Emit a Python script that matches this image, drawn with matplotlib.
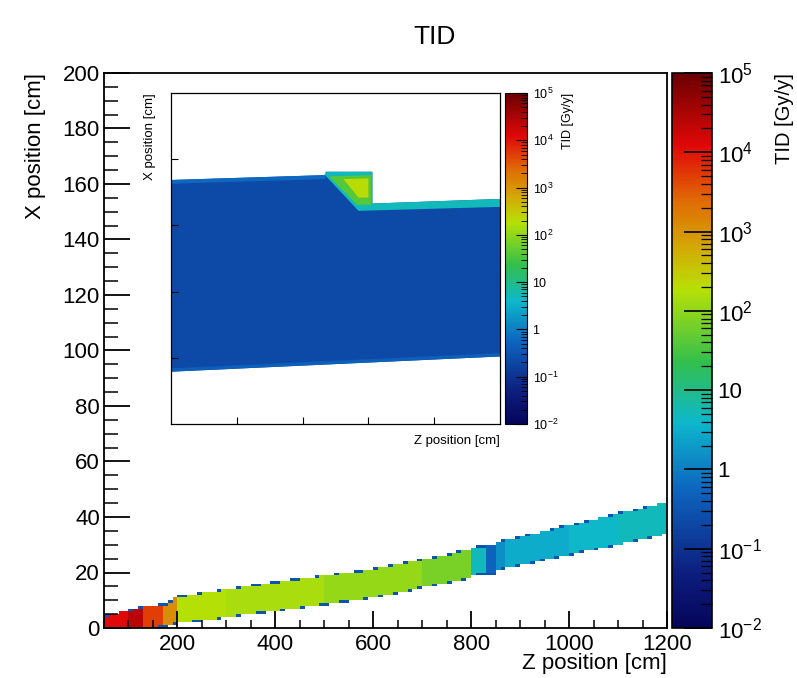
import numpy as np
import matplotlib
matplotlib.use('Agg')
import matplotlib.pyplot as plt
from matplotlib.colors import LinearSegmentedColormap, LogNorm
from matplotlib.patches import Polygon
from matplotlib.cm import ScalarMappable
from matplotlib.ticker import MultipleLocator, FixedLocator, LogLocator, NullFormatter, FixedFormatter

plt.rcParams['font.family'] = ['Liberation Sans', 'DejaVu Sans']
plt.rcParams['mathtext.fontset'] = 'custom'
plt.rcParams['mathtext.rm'] = 'Liberation Sans'
plt.rcParams['mathtext.it'] = 'Liberation Sans:italic'

#main map: outline of the dose band (Z, X in cm)
band_z  = [50, 100, 140, 180, 195, 400, 600, 800, 808, 850, 855, 1200]
band_lo = [0, 0, 0.4, 1.0, 1.8, 6.5, 11.2, 18.5, 19.6, 20.0, 21.3, 34.2]
band_hi = [4.1, 5.9, 7.7, 8.3, 10.8, 16.2, 20.9, 27.9, 29.2, 29.5, 30.6, 45.0]

#TID along Z: segment edges and values [Gy/y]
tid_z   = [50, 100, 130, 175, 200, 300, 500, 700, 802, 832, 848, 875, 1000, 1100, 1200]
tid_val = [1.2e4, 2.5e4, 5e3, 1.2e3, 180, 150, 110, 70, 5, 0.5, 1.5, 3, 4, 5]
edge_tid = 0.3   #partly filled bins along the band edges

#inset (zoomed view), coordinates in inset units
inset_body  = [(0, 0.79), (5, 1.02), (5, 3.40), (3.06, 3.33), (3.06, 3.81), (2.35, 3.81), (2.35, 3.76), (0, 3.686)]
inset_rim   = [(0, 3.686), (2.35, 3.76), (2.35, 3.70), (0, 3.63)]
inset_low   = [(0, 0.79), (5, 1.02), (5, 1.07), (0, 0.84)]
inset_cyan  = [(2.33, 3.77), (2.38, 3.81), (3.06, 3.81), (3.06, 3.33), (5, 3.40), (5, 3.28), (2.85, 3.22)]
inset_green = [(2.40, 3.74), (3.04, 3.76), (3.04, 3.31), (2.83, 3.31)]
inset_core  = [(2.62, 3.70), (3.00, 3.71), (3.00, 3.42), (2.85, 3.42)]
inset_vals  = {'body': 0.22, 'rim': 0.6, 'low': 0.45, 'cyan': 5, 'green': 40, 'core': 200}

cb_ticks = [1e-2, 1e-1, 1, 10, 1e2, 1e3, 1e4, 1e5]
cb_labels = [r'$10^{-2}$', r'$10^{-1}$', '1', '10', r'$10^{2}$', r'$10^{3}$', r'$10^{4}$', r'$10^{5}$']

#ROOT-like rainbow palette
cmap = LinearSegmentedColormap.from_list('rootrainbow', [
  (0.00, (0.02, 0.02, 0.35)),
  (0.10, (0.05, 0.12, 0.50)),
  (0.25, (0.05, 0.40, 0.75)),
  (0.37, (0.05, 0.72, 0.80)),
  (0.48, (0.20, 0.75, 0.30)),
  (0.61, (0.72, 0.88, 0.02)),
  (0.68, (0.82, 0.68, 0.02)),
  (0.77, (0.88, 0.42, 0.02)),
  (0.87, (0.88, 0.03, 0.03)),
  (1.00, (0.42, 0.00, 0.00))])
norm = LogNorm(1e-2, 1e5)

#fill the 2d histogram from the outline
zedges = np.arange(50, 1201, 10.0)
xedges = np.arange(0, 50.01, 1.0)
zc = 0.5*(zedges[:-1]+zedges[1:])
lo = np.interp(zc, band_z, band_lo)
hi = np.interp(zc, band_z, band_hi)
seg = np.clip(np.searchsorted(tid_z, zc, side='right')-1, 0, len(tid_val)-1)
val = np.array(tid_val)[seg]
x0 = xedges[:-1][:, None]; x1 = xedges[1:][:, None]
cover = np.clip(np.minimum(x1, hi[None, :]) - np.maximum(x0, lo[None, :]), 0, 1)
C = np.where(cover >= 0.35, np.broadcast_to(val, cover.shape), np.nan)
C = np.where((cover > 0) & (cover < 0.35), edge_tid, C)

W, H = 797, 678
fig = plt.figure(figsize=(W/100, H/100), dpi=100)
def box(l, t, r, b): return [l/W, 1-b/H, (r-l)/W, (b-t)/H]

fs = 16
ax = fig.add_axes(box(104, 73, 667, 628))
cax = fig.add_axes(box(672, 73, 712, 628))
mesh = ax.pcolormesh(zedges, xedges, np.ma.masked_invalid(C), cmap=cmap, norm=norm)
ax.set_xlim(50, 1200)
ax.set_ylim(0, 200)
ax.xaxis.set_major_locator(MultipleLocator(200))
ax.xaxis.set_minor_locator(MultipleLocator(50))
ax.yaxis.set_major_locator(MultipleLocator(20))
ax.yaxis.set_minor_locator(MultipleLocator(5))
ax.tick_params(axis='x', which='major', direction='in', length=12, width=1.3, labelsize=fs, pad=4, top=False)
ax.tick_params(axis='x', which='minor', direction='in', length=6, width=1.1, top=False)
ax.tick_params(axis='y', which='major', direction='in', length=19, width=1.3, labelsize=fs, pad=3, right=False)
ax.tick_params(axis='y', which='minor', direction='in', length=10, width=1.1, right=False)
ax.set_xlabel('Z position [cm]', loc='right', fontsize=fs, labelpad=-1)
ax.set_ylabel('X position [cm]', loc='top', fontsize=fs, labelpad=12)
for s in ax.spines.values(): s.set_linewidth(1.3)

cb = fig.colorbar(mesh, cax=cax)
cax.yaxis.set_major_locator(FixedLocator(cb_ticks))
cax.yaxis.set_major_formatter(FixedFormatter(cb_labels))
cax.yaxis.set_minor_locator(LogLocator(subs=np.arange(2, 10)))
cax.yaxis.set_minor_formatter(NullFormatter())
cax.tick_params(which='major', direction='in', length=20, width=1.2, labelsize=fs, pad=4)
cax.tick_params(which='minor', direction='in', length=8, width=0.9)
cb.outline.set_linewidth(1.2)
cb.set_label('TID [Gy/y]', loc='top', fontsize=14.5, labelpad=10)

fig.text(435/W, 1-37/H, 'TID', ha='center', va='center', fontsize=19)

#inset
ia = fig.add_axes(box(171, 93, 500, 424))
ica = fig.add_axes(box(505, 93, 527, 424))
for name, poly in [('body', inset_body), ('rim', inset_rim), ('low', inset_low), ('cyan', inset_cyan), ('green', inset_green), ('core', inset_core)]:
  ia.add_patch(Polygon(poly, closed=True, facecolor=cmap(norm(inset_vals[name])), edgecolor='none'))
ia.set_xlim(0, 5)
ia.set_ylim(0, 5)
ia.set_xticks([1, 2, 3, 4])
ia.set_yticks([1, 2, 3, 4])
ia.tick_params(direction='in', length=5, width=0.8, labelbottom=False, labelleft=False, top=False, right=False)
ia.set_xlabel('Z position [cm]', loc='right', fontsize=9.5, labelpad=8)
ia.set_ylabel('X position [cm]', loc='top', fontsize=9.5, labelpad=11)
for s in ia.spines.values(): s.set_linewidth(0.9)

icb = fig.colorbar(ScalarMappable(norm=norm, cmap=cmap), cax=ica)
ica.yaxis.set_major_locator(FixedLocator(cb_ticks))
ica.yaxis.set_major_formatter(FixedFormatter(cb_labels))
ica.yaxis.set_minor_locator(LogLocator(subs=np.arange(2, 10)))
ica.yaxis.set_minor_formatter(NullFormatter())
ica.tick_params(which='major', direction='in', length=8, width=0.8, labelsize=9, pad=4)
ica.tick_params(which='minor', direction='in', length=4, width=0.6)
icb.outline.set_linewidth(0.8)
icb.set_label('TID [Gy/y]', loc='top', fontsize=9, labelpad=3)

fig.savefig('out.png', dpi=100)
